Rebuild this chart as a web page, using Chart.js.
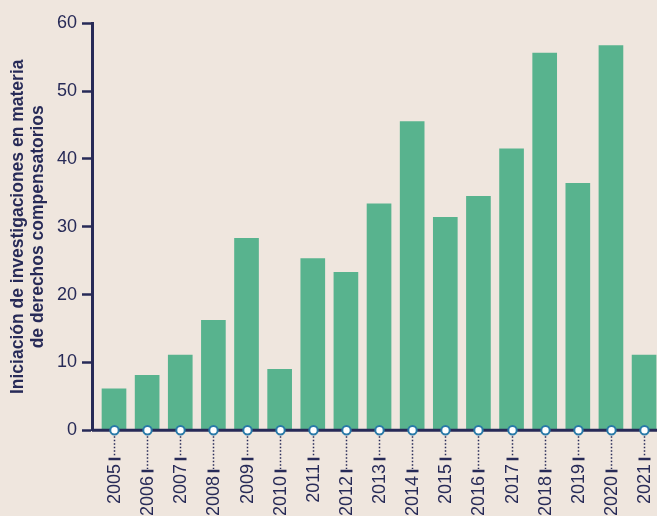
<!DOCTYPE html>
<html>
<head>
<meta charset="utf-8">
<script src="https://cdn.jsdelivr.net/npm/chart.js@4"></script>
<style>
  html, body { margin: 0; padding: 0; background: #efe6de; }
  #wrap { width: 657px; height: 516px; position: relative; }
</style>
</head>
<body>
<div id="wrap"><canvas id="chart"></canvas></div>
<script>
// ==============================
// DATA
// ==============================
const years = ['2005', '2006', '2007', '2008', '2009', '2010', '2011', '2012', '2013',
  '2014', '2015', '2016', '2017', '2018', '2019', '2020', '2021'];
const investigaciones = [6.1, 8.1, 11.1, 16.2, 28.3, 9, 25.3, 23.3, 33.4, 45.5, 31.4, 34.5, 41.5, 55.6, 36.4, 56.7, 11.1];
const yTitle = ['Iniciación de investigaciones en materia', 'de derechos compensatorios'];

// ==============================
// STYLE
// ==============================
const navy = '#272a57';
const green = '#58b38e';
const ringBlue = '#2879a8';
const tickFont = '"Liberation Sans", Arial, sans-serif';

// draws the x axis line, markers and the staggered year labels
const yearAxis = {
  id: 'yearAxis',
  afterDatasetsDraw(chart) {
    const ctx = chart.ctx;
    const x = chart.scales.x;
    const y0 = chart.scales.y.getPixelForValue(0);
    ctx.save();

    ctx.strokeStyle = navy;
    ctx.lineWidth = 3;
    ctx.beginPath();
    ctx.moveTo(chart.chartArea.left, y0);
    ctx.lineTo(chart.width, y0);
    ctx.stroke();

    years.forEach((yr, i) => {
      const px = Math.round(x.getPixelForValue(i)) + 0.5;
      const dashY = i % 2 === 0 ? 459 : 471;

      // dotted leader
      ctx.strokeStyle = navy;
      ctx.lineWidth = 1.5;
      ctx.setLineDash([1.5, 2]);
      ctx.beginPath();
      ctx.moveTo(px, y0 + 6);
      ctx.lineTo(px, dashY - 2);
      ctx.stroke();
      ctx.setLineDash([]);

      // short dash
      ctx.lineWidth = 2.5;
      ctx.beginPath();
      ctx.moveTo(px - 6, dashY);
      ctx.lineTo(px + 6, dashY);
      ctx.stroke();

      // label
      ctx.save();
      ctx.translate(px, dashY + 5);
      ctx.rotate(-Math.PI / 2);
      ctx.fillStyle = navy;
      ctx.font = '18px ' + tickFont;
      ctx.textAlign = 'right';
      ctx.textBaseline = 'middle';
      ctx.fillText(yr, 0, 1);
      ctx.restore();

      // ring marker
      ctx.beginPath();
      ctx.arc(px, y0, 4.2, 0, Math.PI * 2);
      ctx.fillStyle = '#ffffff';
      ctx.fill();
      ctx.lineWidth = 2;
      ctx.strokeStyle = ringBlue;
      ctx.stroke();
    });
    ctx.restore();
  }
};

// ==============================
// CHART
// ==============================
new Chart(document.getElementById('chart'), {
  type: 'bar',
  data: {
    datasets: [{
      data: investigaciones.map((v, i) => ({ x: i, y: v })),
      backgroundColor: green,
      borderWidth: 0,
      barThickness: 24
    }]
  },
  options: {
    responsive: true,
    maintainAspectRatio: false,
    animation: false,
    layout: { padding: { top: 23.3, right: 0, bottom: 85.7, left: 0 } },
    plugins: { legend: { display: false }, tooltip: { enabled: false } },
    scales: {
      x: {
        type: 'linear',
        offset: false,
        min: -0.664,
        max: 16.39,
        display: false
      },
      y: {
        min: 0,
        max: 60,
        afterFit: (scale) => { scale.width = 92; },
        ticks: {
          stepSize: 10,
          color: navy,
          padding: 5,
          font: { family: tickFont, size: 18 }
        },
        grid: {
          drawOnChartArea: false,
          drawTicks: true,
          tickLength: 10,
          tickColor: navy,
          tickWidth: 2.5
        },
        border: { display: true, color: navy, width: 3 },
        title: {
          display: true,
          text: yTitle,
          color: navy,
          padding: { top: 9, bottom: 0 },
          font: { family: '"Liberation Sans", Arial, sans-serif', size: 17.5, weight: 'bold', lineHeight: 1.1 }
        }
      }
    }
  },
  plugins: [yearAxis]
});
</script>
</body>
</html>
